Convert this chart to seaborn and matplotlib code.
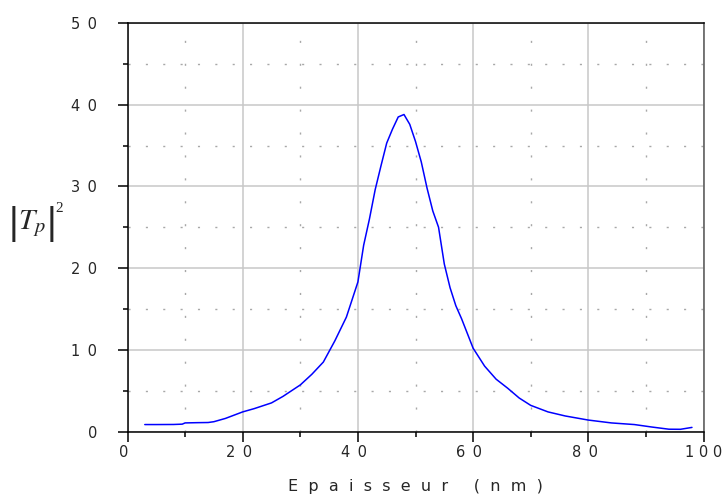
import matplotlib
matplotlib.use("Agg")
import matplotlib.pyplot as plt
import seaborn as sns
import pandas as pd
from matplotlib.ticker import MultipleLocator

# Transmission |Tp|^2 versus layer thickness (nm)
epaisseur = [3, 5, 8, 9.5, 10, 12, 14, 15, 17, 20, 22, 25, 27, 30, 32, 34, 36,
             38, 40, 41, 42, 43, 44, 45, 46, 47, 48, 49, 50, 51, 52, 53, 54,
             55, 56, 57, 58, 60, 62, 64, 66, 68, 70, 73, 76, 80, 84, 88, 91,
             94, 96, 98]
tp2 = [0.85, 0.85, 0.86, 0.9, 1.05, 1.08, 1.1, 1.2, 1.6, 2.4, 2.8, 3.5, 4.3,
       5.7, 7.0, 8.5, 11.1, 14.0, 18.3, 22.8, 26.0, 29.6, 32.5, 35.3, 37.0,
       38.5, 38.8, 37.6, 35.5, 33.0, 29.8, 27.0, 25.0, 20.5, 17.6, 15.4, 13.8,
       10.2, 8.0, 6.4, 5.3, 4.1, 3.2, 2.4, 1.9, 1.4, 1.05, 0.85, 0.55, 0.28,
       0.27, 0.5]

x_ticks = [0, 20, 40, 60, 80, 100]
y_ticks = [0, 10, 20, 30, 40, 50]


def spaced(v, sep="\u2002"):
    return sep.join(str(v))


df = pd.DataFrame({"Epaisseur": epaisseur, "Tp2": tp2})

sns.set_theme(style="white")
plt.rcParams["font.family"] = ["DejaVu Sans"]

fig = plt.figure(figsize=(7.23, 5.03), dpi=100)
ax = fig.add_axes([127.5 / 723, 1 - 431.5 / 503, (703.5 - 127.5) / 723, (431.5 - 23) / 503])

sns.lineplot(data=df, x="Epaisseur", y="Tp2", ax=ax, color="#0000ff",
             linewidth=1.1, estimator=None, sort=False)

ax.set_xlim(0, 100)
ax.set_ylim(0, 50)
ax.set_xticks(x_ticks)
ax.set_yticks(y_ticks)
# a trailing space nudges each label a little left of its tick;
# the last one is packed tighter so it stays inside the figure
x_labels = [spaced(v) + "\u2002" for v in x_ticks[:-1]] + [spaced(x_ticks[-1], " ")]
ax.set_xticklabels(x_labels, fontsize=10.5)
ax.set_yticklabels([spaced(v) for v in y_ticks], fontsize=10.5)
ax.xaxis.set_minor_locator(MultipleLocator(10))
ax.yaxis.set_minor_locator(MultipleLocator(5))

ax.tick_params(which="major", direction="out", length=7, width=1.1,
               color="black", left=True, bottom=True)
ax.tick_params(which="minor", direction="out", length=3.5, width=1.1,
               color="black", left=True, bottom=True)
ax.tick_params(axis="y", which="major", pad=15)
ax.tick_params(axis="x", which="major", pad=2.5)

ax.grid(which="major", color="#c8c8c8", linewidth=1.1, linestyle="-")
ax.xaxis.grid(which="minor", color="#a8a8a8", linewidth=1.0,
              linestyle=(0, (1.5, 15)))
ax.yaxis.grid(which="minor", color="#a8a8a8", linewidth=1.0,
              linestyle=(0, (1.5, 11)))
ax.set_axisbelow(True)

for side in ["left", "bottom", "top", "right"]:
    ax.spines[side].set_visible(True)
    ax.spines[side].set_color("black")
    ax.spines[side].set_linewidth(1.1)
ax.spines["right"].set_color("#555555")

ax.set_xlabel("E  p  a  i  s  s  e  u  r     (  n  m  )", fontsize=11.5,
              labelpad=14)
ax.set_ylabel("")

# y-axis label |Tp|^2 built from pieces
W, H = 723, 503
fig.text(14 / W, 1 - 224 / H, "|", fontsize=27, ha="center", va="center",
         family="Liberation Sans")
fig.text(32 / W, 1 - 224 / H, r"$T_{p}$", fontsize=21, ha="center",
         va="center", math_fontfamily="stix")
fig.text(51 / W, 1 - 224 / H, "|", fontsize=27, ha="center", va="center",
         family="Liberation Sans")
fig.text(59 / W, 1 - 208 / H, "2", fontsize=11, ha="center", va="center",
         family="Liberation Serif")

fig.savefig("out.png", dpi=100)
